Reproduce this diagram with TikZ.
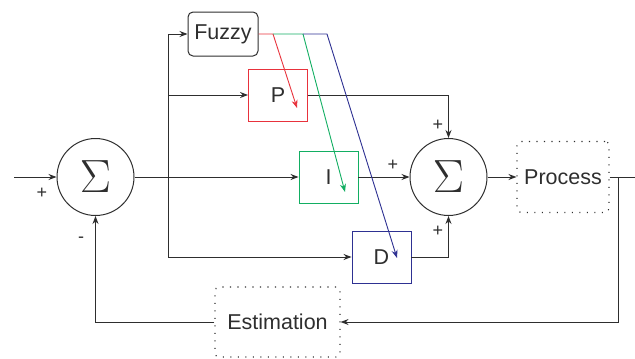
\documentclass[tikz,border=0pt]{standalone}
\usepackage{fontspec}
\setmainfont{Liberation Sans}
\usetikzlibrary{arrows.meta}

\definecolor{linegray}{HTML}{2E2E2E}
\definecolor{fzred}{HTML}{E8323C}
\definecolor{fzgreen}{HTML}{12AE62}
\definecolor{fzblue}{HTML}{2E3192}

\newcommand{\bigsigma}{\scalebox{2.25}{$\Sigma$}}

\tikzset{
  every node/.style={font=\fontsize{21.5}{24}\selectfont, text=linegray},
  sumnode/.style={draw=linegray, circle, line width=1pt, minimum size=77pt, inner sep=0pt, font=\fontsize{20}{20}\selectfont},
  ctrlbox/.style={draw, minimum width=59pt, minimum height=52pt, inner sep=0pt},
  dotbox/.style={draw=linegray, rounded corners=4pt, dash pattern=on 1.1pt off 6.4pt, inner sep=0pt},
  sgn/.style={font=\fontsize{18}{18}\selectfont, inner sep=0pt},
  conn/.style={draw=linegray, line width=1pt},
  arr/.style={conn, -{Stealth[length=8pt,width=6pt]}},
  fzarr/.style={line width=0.9pt, -{Stealth[length=8pt,width=6pt]}}
}

\begin{document}
\begin{tikzpicture}[x=1pt, y=-1pt]
    \useasboundingbox (0,0) rectangle (635,359);

    % summing points
    \node[sumnode] (sumin) at (95.5,177) {\bigsigma};
    \node[sumnode] (sumout) at (448.5,177) {\bigsigma};

    % controller blocks
    \node[draw=linegray, rounded corners=5pt, line width=1pt, minimum width=70pt, minimum height=44pt, inner sep=0pt] (fuzzy) at (223,34) {Fuzzy};
    \node[ctrlbox, draw=fzred, line width=0.9pt] (P) at (278,95) {P};
    \node[ctrlbox, draw=fzgreen, line width=0.9pt] (I) at (328.5,177) {I};
    \node[ctrlbox, draw=fzblue, line width=0.9pt] (D) at (381.5,257) {D};

    % plant and observer
    \node[dotbox, line width=1.1pt, minimum width=92pt, minimum height=71pt] (process) at (563,177) {Process};
    \node[dotbox, line width=1.1pt, minimum width=125pt, minimum height=70pt] (estim) at (277.5,322) {Estimation};

    \coordinate (input) at (14,177);
    \coordinate (split) at (168,177);
    \coordinate (tap) at (618,177);
    \coordinate (output) at (635,177);

    % forward path
    \draw[arr] (input) -- (sumin.west);
    \draw[arr] (sumin.east) -- (I.west);
    \draw[arr] (split) |- (fuzzy.west);
    \draw[arr] (split) |- (P.west);
    \draw[arr] (split) |- (D.west);
    \draw[arr] (P.east) -| (sumout.north);
    \draw[arr] (I.east) -- (sumout.west);
    \draw[arr] (D.east) -| (sumout.south);
    \draw[arr] (sumout.east) -- (process.west);
    \draw[conn] (process.east) -- (output);

    % feedback
    \draw[arr] (tap) |- (estim.east);
    \draw[arr] (estim.west) -| (sumin.south);

    % fuzzy tuning of the gains
    \coordinate (fr) at (273,34);
    \coordinate (fg) at (303,34);
    \coordinate (fb) at (327,34);
    \coordinate (ptip) at (297,108);
    \coordinate (itip) at (345,192);
    \coordinate (dtip) at (397,258);
    \draw[fzarr, fzred] (fuzzy.east) -- (fr) -- (ptip);
    \draw[fzarr, fzgreen] (fr) -- (fg) -- (itip);
    \draw[fzarr, fzblue] (fg) -- (fb) -- (dtip);

    % signs
    \node[sgn] (s1) at (42,193) {+};
    \node[sgn] (s2) at (81,240) {-};
    \node[sgn] (s3) at (438,125) {+};
    \node[sgn] (s4) at (393,165) {+};
    \node[sgn] (s5) at (438,231) {+};
\end{tikzpicture}
\end{document}
